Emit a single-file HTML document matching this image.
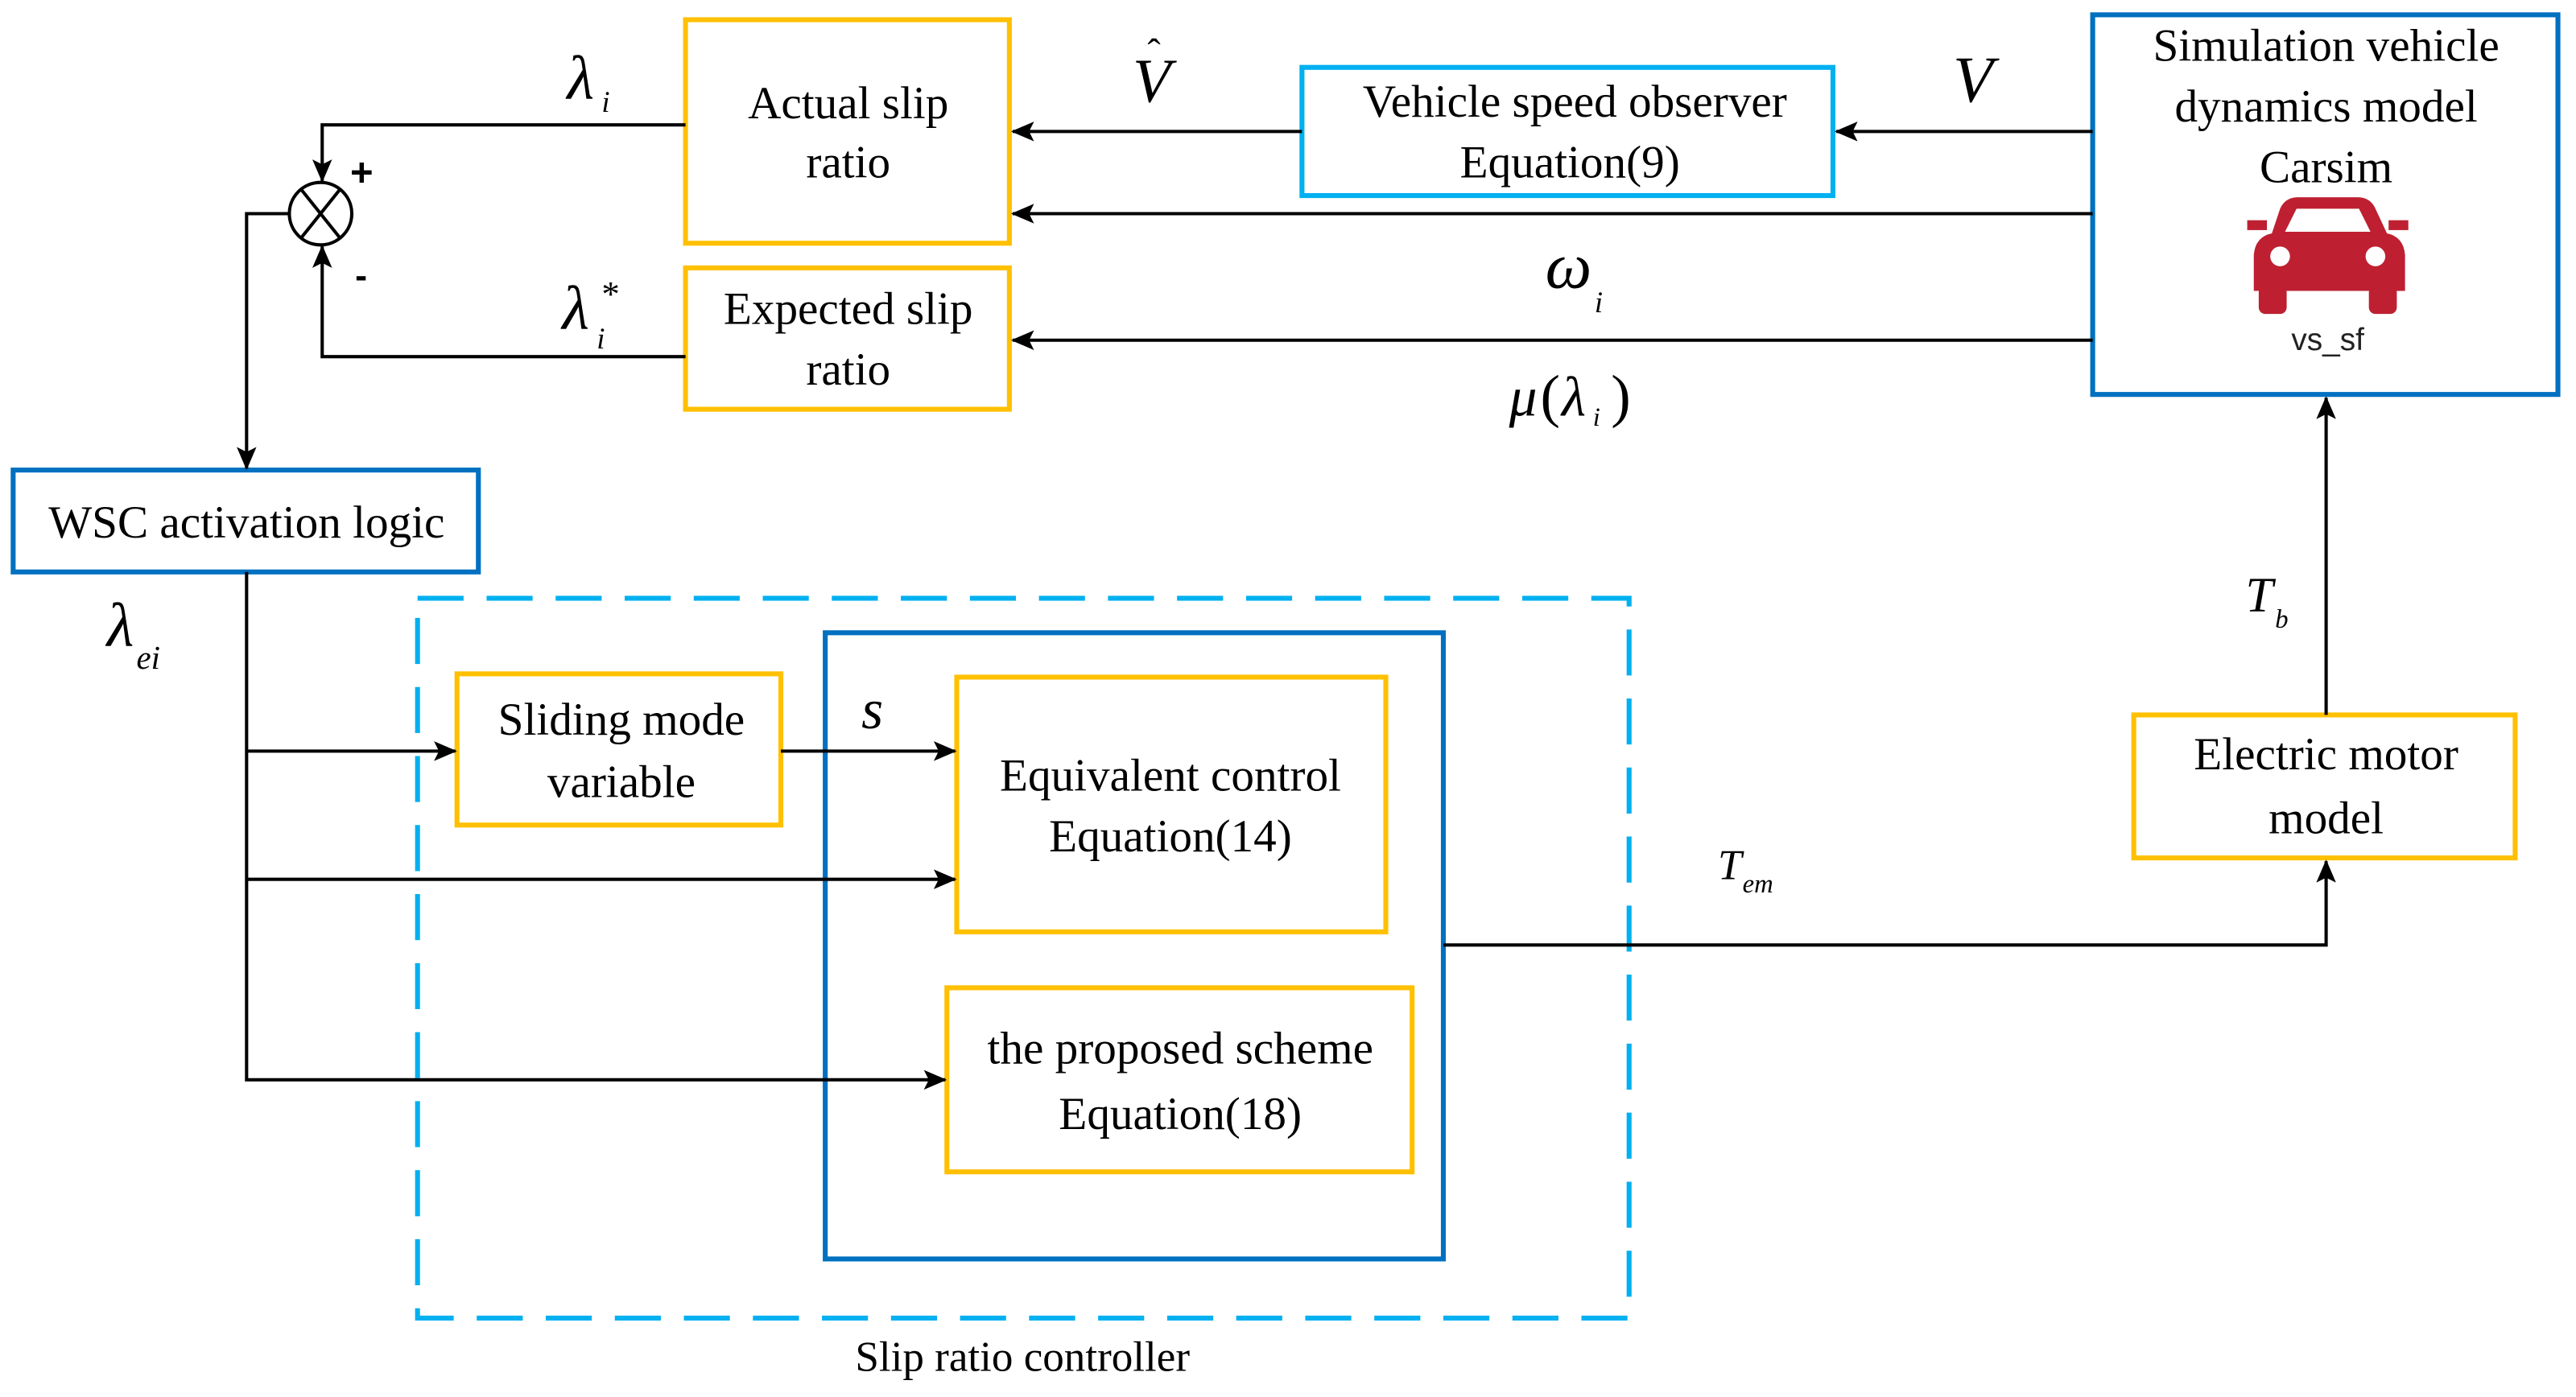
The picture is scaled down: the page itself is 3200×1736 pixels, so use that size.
<!DOCTYPE html>
<html><head><meta charset="utf-8"><style>html,body{margin:0;padding:0;background:#fff}svg{display:block}</style></head>
<body>
<svg width="3200" height="1736" viewBox="0 0 1567 850" preserveAspectRatio="none" xmlns="http://www.w3.org/2000/svg" font-family="Liberation Serif, serif">
<defs>
<marker id="a" markerWidth="14" markerHeight="12" refX="13" refY="6" orient="auto" markerUnits="userSpaceOnUse"><path d="M0,0 L14,6 L0,12 L3,6 z" fill="#000"/></marker>
</defs>
<g fill="none" stroke-width="3">
<rect x="417" y="12" width="197" height="136" stroke="#FFC000"/>
<rect x="417" y="163" width="197" height="86" stroke="#FFC000"/>
<rect x="792" y="41" width="323" height="78" stroke="#00B0F0"/>
<rect x="1273" y="9" width="283" height="231" stroke="#0070C0"/>
<rect x="8" y="286" width="283" height="62" stroke="#0070C0"/>
<rect x="254" y="364" width="737" height="438" stroke="#00B0F0" stroke-dasharray="28,14"/>
<rect x="502" y="385" width="376" height="381" stroke="#0070C0"/>
<rect x="278" y="410" width="197" height="92" stroke="#FFC000"/>
<rect x="582" y="412" width="261" height="155" stroke="#FFC000"/>
<rect x="576" y="601" width="283" height="112" stroke="#FFC000"/>
<rect x="1298" y="435" width="232" height="87" stroke="#FFC000"/>
</g>
<g fill="none" stroke="#000" stroke-width="2">
<circle cx="195" cy="130" r="19"/>
<path d="M183,115 L207,145 M207,115 L183,145"/>
<path d="M417,76 H196 V110" marker-end="url(#a)"/>
<path d="M417,217 H196 V150" marker-end="url(#a)"/>
<path d="M176,130 H150 V285" marker-end="url(#a)"/>
<path d="M1273,80 H1117" marker-end="url(#a)"/>
<path d="M792,80 H616" marker-end="url(#a)"/>
<path d="M1273,130 H616" marker-end="url(#a)"/>
<path d="M1273,207 H616" marker-end="url(#a)"/>
<path d="M150,348 V657 H575" marker-end="url(#a)"/>
<path d="M150,457 H277" marker-end="url(#a)"/>
<path d="M150,535 H581" marker-end="url(#a)"/>
<path d="M475,457 H581" marker-end="url(#a)"/>
<path d="M878,575 H1415 V524" marker-end="url(#a)"/>
<path d="M1415,435 V242" marker-end="url(#a)"/>
</g>
<g font-size="28" text-anchor="middle" fill="#000">
<text x="516" y="72">Actual slip</text><text x="516" y="108">ratio</text>
<text x="516" y="197">Expected slip</text><text x="516" y="234">ratio</text>
<text x="958" y="71">Vehicle speed observer</text><text x="955" y="108">Equation(9)</text>
<text x="1415" y="37">Simulation vehicle</text><text x="1415" y="74">dynamics model</text><text x="1415" y="111">Carsim</text>
<text x="150" y="327">WSC activation logic</text>
<text x="378" y="447">Sliding mode</text><text x="378" y="485">variable</text>
<text x="712" y="481">Equivalent control</text><text x="712" y="518">Equation(14)</text>
<text x="718" y="647">the proposed scheme</text><text x="718" y="687">Equation(18)</text>
<text x="1415" y="468">Electric motor</text><text x="1415" y="507">model</text>
<text x="622" y="834" font-size="26">Slip ratio controller</text>
</g>
<g fill="#000" font-style="italic">
<text x="345" y="60" font-size="38">λ</text><text x="366" y="68" font-size="18">i</text>
<text x="342" y="200" font-size="38">λ</text><text x="363" y="212" font-size="18">i</text><text x="366" y="186" font-size="22" font-style="normal">*</text>
<text x="689" y="62" font-size="38">V</text><text x="698" y="40" font-size="24" font-style="normal">ˆ</text>
<text x="1188" y="62" font-size="40">V</text>
<text x="940" y="175" font-size="40">ω</text><text x="970" y="190" font-size="18">i</text>
<text x="918" y="253" font-size="34">μ</text><text x="937" y="253" font-size="36" font-style="normal">(</text><text x="950" y="253" font-size="34">λ</text><text x="969" y="259" font-size="16">i</text><text x="980" y="253" font-size="36" font-style="normal">)</text>
<text x="65" y="393" font-size="38">λ</text><text x="83" y="407" font-size="20">ei</text>
<text x="524" y="443" font-size="34">s</text>
<text x="1045" y="535" font-size="26">T</text><text x="1060" y="543" font-size="16">em</text>
<text x="1366" y="372" font-size="30">T</text><text x="1384" y="382" font-size="16">b</text>
<text x="213" y="113" font-size="24" font-style="normal" font-family="Liberation Sans, sans-serif" font-weight="bold">+</text>
<text x="216" y="175" font-size="22" font-style="normal" font-family="Liberation Sans, sans-serif" font-weight="bold">-</text>
</g>
<g fill="#BE2032">
<path d="M1387,127 Q1390,120 1398,120 H1434 Q1442,120 1445,127 L1452,142 Q1462,144 1463,155 V177 H1371 V155 Q1372,144 1382,142 Z"/>
<rect x="1374" y="174" width="17" height="17" rx="4"/>
<rect x="1441" y="174" width="17" height="17" rx="4"/>
<rect x="1367" y="134" width="12" height="6"/>
<rect x="1453" y="134" width="12" height="6"/>
</g>
<path d="M1397,127 H1435 L1442,141 H1390 Z" fill="#fff"/>
<circle cx="1387" cy="156" r="6" fill="#fff"/><circle cx="1445" cy="156" r="6" fill="#fff"/>
<text x="1416" y="213" font-size="19" text-anchor="middle" font-family="Liberation Sans, sans-serif" fill="#222">vs_sf</text>
</svg>
</body></html>
